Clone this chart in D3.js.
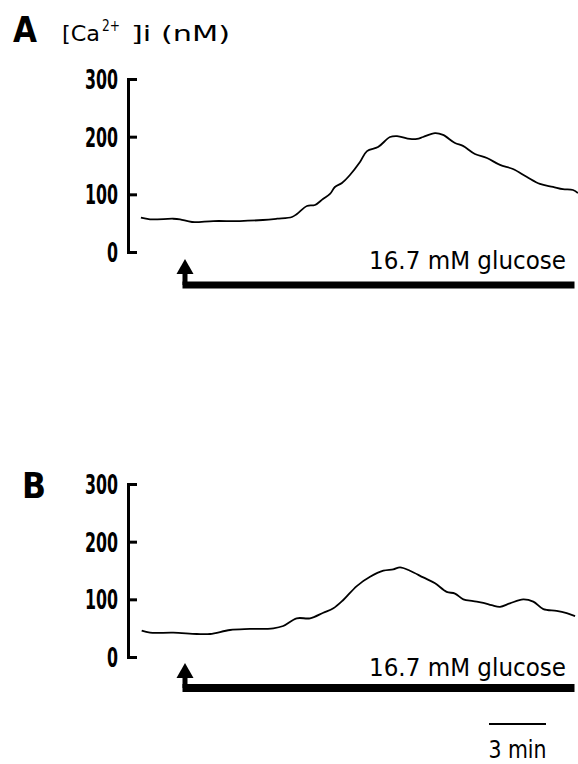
<!DOCTYPE html>
<html><head><meta charset="utf-8">
<script src="https://cdn.jsdelivr.net/npm/d3@7"></script>
<style>body{margin:0;background:#fff}svg{display:block}</style>
</head><body><svg id="c" width="578" height="764"></svg>
<script>
// ---- data ----
const yTicks = [0, 100, 200, 300];
const panelLetters = ["A", "B"];
// time in minutes relative to glucose addition, [Ca2+]i in nM
const timeA = [-2.32,-1.84,-0.63,-0.26,0.37,1.49,2.89,4.1,4.84,5.63,5.89,6.42,6.84,7.26,7.63,7.89,8.26,8.68,9.21,9.58,10.16,10.79,11.16,11.84,12.21,12.53,13.16,13.58,14.21,14.63,15.26,15.89,16.58,17.26,18.0,18.68,19.37,19.89,20.42,20.68];
const caA   = [59.5,56.7,57.7,56.7,52,53.7,53.7,55.5,57.7,60.7,65.9,79.8,81.5,91.9,100.6,112.7,119.6,133.5,156,175,182,199.4,201,196,196,199.4,206,203,189,184,170,163,151,144,130,118,113,109,107.5,102];
const timeB = [-2.28,-1.84,-0.62,0.62,1.32,2.37,3.42,4.65,5.17,5.88,6.58,7.28,7.81,8.33,9.04,9.74,10.44,10.96,11.32,11.84,12.54,13.16,13.77,14.21,14.65,15.17,15.7,16.14,16.58,17.1,17.8,18.33,18.86,19.56,20.09,20.53];
const caB   = [45.6,42.1,42.1,39.9,39.9,46.8,48.6,49.8,53.8,67.1,67.1,76.8,84.4,98.8,123,139,149.6,152,155.5,149.6,138,127.8,113,110,100,97,94,90,87,93,100,96,83,80,76,71];
const glucoseOn = [0, 20.5];
const glucoseLabel = "16.7 mM  glucose";
const scaleBarTimes = [16, 19];
const scaleBarLabel = "3 min";

// ---- layout ----
const svg = d3.select("#c");
const x = d3.scaleLinear().domain([-3, 21]).range([128, 584]);
const layout = [
  {letter: panelLetters[0], t: timeA, v: caA, y0: 252, y1: 79, barY: 285, barW: 7, tipY: 259, headBase: 274, textY: 268.5, letterX: 13, letterY: 42},
  {letter: panelLetters[1], t: timeB, v: caB, y0: 657, y1: 484, barY: 688, barW: 8, tipY: 663, headBase: 678, textY: 676, letterX: 22, letterY: 498}
];

layout.forEach(p => {
  const y = d3.scaleLinear().domain([0, 300]).range([p.y0, p.y1]);
  const g = svg.append("g");
  // axis
  const ax = g.append("g").attr("transform", `translate(${x(-3)},0)`)
    .call(d3.axisLeft(y).tickValues(yTicks).tickSize(-9).tickSizeOuter(0).tickPadding(10));
  ax.attr("font-size", null).attr("font-family", null);
  ax.select(".domain").attr("stroke", "#000").attr("stroke-width", 3).attr("stroke-linecap", "square");
  ax.selectAll(".tick line").attr("stroke", "#000").attr("stroke-width", 3);
  ax.selectAll(".tick text").attr("fill", "#000")
    .style("font-family", "'DejaVu Sans Condensed','DejaVu Sans',sans-serif")
    .style("font-weight", "bold").style("font-size", "26px")
    .attr("dy", "0.36em")
    .attr("textLength", d => String(d).length * 11)
    .attr("lengthAdjust", "spacingAndGlyphs");

  // trace
  const line = d3.line().x((d, i) => x(p.t[i])).y((d, i) => y(p.v[i])).curve(d3.curveCatmullRom);
  g.append("path").datum(p.v).attr("d", line)
    .attr("fill", "none").attr("stroke", "#000").attr("stroke-width", 1.8).attr("stroke-linejoin", "round");

  // glucose bar + arrow
  const xs = x(glucoseOn[0]), xe = x(glucoseOn[1]);
  g.append("line").attr("x1", xs - 2.5).attr("x2", xe).attr("y1", p.barY).attr("y2", p.barY)
    .attr("stroke", "#000").attr("stroke-width", p.barW);
  g.append("line").attr("x1", xs).attr("x2", xs).attr("y1", p.barY).attr("y2", p.headBase - 1)
    .attr("stroke", "#000").attr("stroke-width", 5);
  g.append("path").attr("d", `M${xs},${p.tipY}L${xs + 8.5},${p.headBase}L${xs - 8.5},${p.headBase}Z`).attr("fill", "#000");
  g.append("text").attr("x", 369).attr("y", p.textY).attr("textLength", 197).attr("lengthAdjust", "spacingAndGlyphs")
    .style("font-family", "'DejaVu Sans',sans-serif").style("font-size", "24px")
    .text(glucoseLabel);

  // panel letter
  g.append("text").attr("x", p.letterX).attr("y", p.letterY)
    .style("font-family", "'DejaVu Sans',sans-serif").style("font-weight", "900").style("font-size", "35px")
    .attr("textLength", 24).attr("lengthAdjust", "spacingAndGlyphs")
    .text(p.letter);
});

// y label for panel A
const lab = svg.append("g").style("font-family", "'DejaVu Sans',sans-serif").style("font-size", "22px");
lab.append("text").attr("x", 62).attr("y", 41).attr("textLength", 38).attr("lengthAdjust", "spacingAndGlyphs").text("[Ca");
lab.append("text").attr("x", 102).attr("y", 31).style("font-size", "15px").attr("textLength", 18).attr("lengthAdjust", "spacingAndGlyphs").text("2+");
lab.append("text").attr("x", 131).attr("y", 41).attr("textLength", 99).attr("lengthAdjust", "spacingAndGlyphs").text("]i (nM)");

// scale bar
const sy = 724;
svg.append("line").attr("x1", x(scaleBarTimes[0])).attr("x2", x(scaleBarTimes[1])).attr("y1", sy).attr("y2", sy)
  .attr("stroke", "#000").attr("stroke-width", 2);
svg.append("text").attr("x", (x(scaleBarTimes[0]) + x(scaleBarTimes[1])) / 2).attr("y", 758).attr("text-anchor", "middle")
  .style("font-family", "'DejaVu Sans Condensed','DejaVu Sans',sans-serif").style("font-size", "25px")
  .attr("textLength", 58).attr("lengthAdjust", "spacingAndGlyphs")
  .text(scaleBarLabel);
</script></body></html>
